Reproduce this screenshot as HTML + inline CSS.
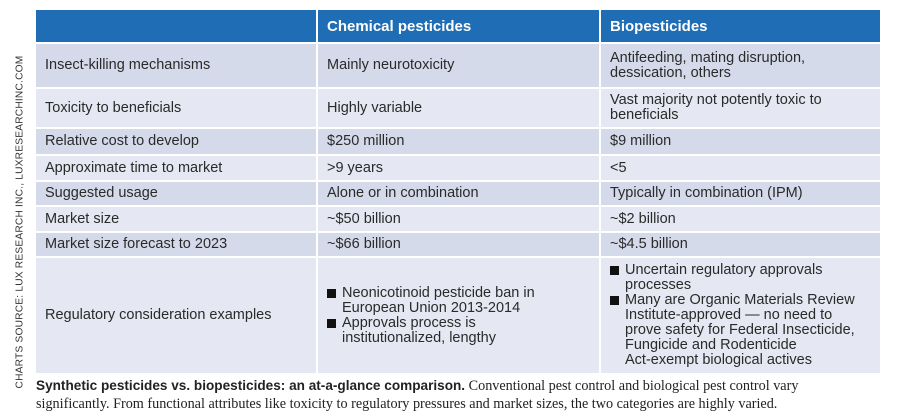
<!DOCTYPE html>
<html><head><meta charset="utf-8"><style>
body{margin:0;width:900px;height:418px;background:#fff;position:relative;overflow:hidden;font-family:"Liberation Sans",sans-serif}
.c{position:absolute;box-sizing:border-box;padding-left:9px;display:flex;flex-direction:column;justify-content:center;font-size:14.5px;color:#2a2a2a;line-height:15px}
.h{background:#1f6db5;color:#fff;font-weight:bold;font-size:15px}
.d{background:#d5daea}.l{background:#e5e8f2}
.b{display:flex}.b span.sq{display:inline-block;width:9px;height:9px;background:#111;margin:3px 6px 0 0;flex:none}
</style></head><body>
<div style="position:absolute;left:20px;top:222px;transform:translate(-50%,-50%) rotate(-90deg);white-space:nowrap;font-size:10.2px;color:#333;letter-spacing:0.2px">CHARTS SOURCE: LUX RESEARCH INC., LUXRESEARCHINC.COM</div>
<div id="t"></div>
<div style="position:absolute;left:36px;top:377px;width:880px;white-space:nowrap;font-family:'Liberation Serif',serif;font-size:14.2px;line-height:17.5px;color:#222"><b style="font-family:'Liberation Sans',sans-serif;font-size:13.6px">Synthetic pesticides vs. biopesticides: an at-a-glance comparison.</b> Conventional pest control and biological pest control vary<br>significantly. From functional attributes like toxicity to regulatory pressures and market sizes, the two categories are highly varied.</div>
<script>
const cols=[[36,316],[318,599],[601,880]];
const rows=[[10,42,'h'],[44,87,'d'],[89,127,'l'],[129,154,'d'],[156,180,'l'],[182,205,'d'],[207,231,'l'],[233,256,'d'],[258,373,'l']];
const cells=[
['','Chemical pesticides','Biopesticides'],
['Insect-killing mechanisms','Mainly neurotoxicity','Antifeeding, mating disruption,<br>dessication, others'],
['Toxicity to beneficials','Highly variable','Vast majority not potently toxic to<br>beneficials'],
['Relative cost to develop','$250 million','$9 million'],
['Approximate time to market','>9 years','<5'],
['Suggested usage','Alone or in combination','Typically in combination (IPM)'],
['Market size','~$50 billion','~$2 billion'],
['Market size forecast to 2023','~$66 billion','~$4.5 billion'],
['Regulatory consideration examples',
 '<div class="b"><span class="sq"></span><span>Neonicotinoid pesticide ban in<br>European Union 2013-2014</span></div><div class="b"><span class="sq"></span><span>Approvals process is<br>institutionalized, lengthy</span></div>',
 '<div class="b"><span class="sq"></span><span>Uncertain regulatory approvals<br>processes</span></div><div class="b"><span class="sq"></span><span>Many are Organic Materials Review<br>Institute-approved — no need to<br>prove safety for Federal Insecticide,<br>Fungicide and Rodenticide<br>Act-exempt biological actives</span></div>']
];
const t=document.getElementById('t');
rows.forEach((r,i)=>cols.forEach((c,j)=>{
 const el=document.createElement('div');
 
 
 el.className='c '+r[2];
 el.style.cssText=`left:${c[0]}px;top:${r[0]}px;width:${c[1]-c[0]}px;height:${r[1]-r[0]}px`;
 el.innerHTML=cells[i][j];
 t.appendChild(el);
}));
</script>
</body></html>
